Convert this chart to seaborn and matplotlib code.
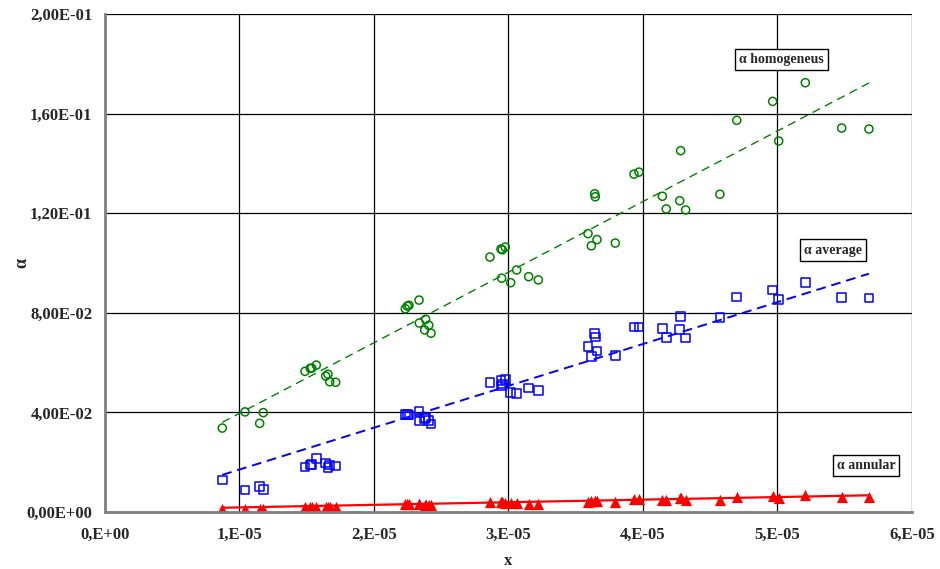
import numpy as np
import pandas as pd
import matplotlib
matplotlib.use("Agg")
import matplotlib.pyplot as plt
import seaborn as sns

# sample positions (x, in units of 1e-5)
x_e5 = [0.872, 1.041, 1.177, 1.150, 1.487, 1.526, 1.537, 1.571, 1.641, 1.658,
        1.671, 1.715, 2.233, 2.248, 2.260, 2.335, 2.337, 2.384, 2.407, 2.377,
        2.424, 2.862, 2.944, 2.954, 2.976, 2.949, 3.016, 3.061, 3.150, 3.222,
        3.591, 3.616, 3.658, 3.794, 3.641, 3.645, 3.933, 3.970, 4.144, 4.280,
        4.273, 4.173, 4.317, 4.572, 4.697, 4.964, 5.207, 5.009, 5.477, 5.680]

alpha_homogeneus = [0.0337, 0.0402, 0.0399, 0.0356, 0.0565, 0.0577, 0.0578, 0.0590, 0.0546, 0.0553,
                    0.0523, 0.0521, 0.0816, 0.0827, 0.0830, 0.0851, 0.0759, 0.0774, 0.0750, 0.0731,
                    0.0718, 0.1024, 0.1056, 0.1053, 0.1064, 0.0939, 0.0921, 0.0972, 0.0945, 0.0932,
                    0.1118, 0.1069, 0.1094, 0.1080, 0.1278, 0.1266, 0.1357, 0.1365, 0.1268, 0.1451,
                    0.1250, 0.1217, 0.1213, 0.1276, 0.1573, 0.1649, 0.1724, 0.1490, 0.1542, 0.1538]

alpha_average = [0.0129, 0.0088, 0.0090, 0.0102, 0.0180, 0.0188, 0.0190, 0.0214, 0.0197, 0.0178,
                 0.0188, 0.0185, 0.0392, 0.0392, 0.0390, 0.0404, 0.0365, 0.0379, 0.0368, 0.0375,
                 0.0353, 0.0521, 0.0527, 0.0514, 0.0531, 0.0506, 0.0479, 0.0475, 0.0498, 0.0487,
                 0.0664, 0.0625, 0.0647, 0.0629, 0.0716, 0.0702, 0.0743, 0.0743, 0.0736, 0.0786,
                 0.0734, 0.0700, 0.0699, 0.0780, 0.0863, 0.0892, 0.0921, 0.0854, 0.0861, 0.0859]

alpha_annular = [0.0011, 0.0013, 0.0012, 0.0012, 0.0019, 0.0021, 0.0021, 0.0021, 0.0020, 0.0020,
                 0.0020, 0.0019, 0.0031, 0.0031, 0.0031, 0.0031, 0.0031, 0.0028, 0.0028, 0.0028,
                 0.0027, 0.0039, 0.0039, 0.0039, 0.0036, 0.0039, 0.0035, 0.0036, 0.0033, 0.0033,
                 0.0041, 0.0043, 0.0045, 0.0040, 0.0045, 0.0045, 0.0053, 0.0053, 0.0048, 0.0055,
                 0.0055, 0.0047, 0.0048, 0.0048, 0.0061, 0.0065, 0.0069, 0.0057, 0.0060, 0.0059]

# trend lines as drawn in the original (values at first / last sample)
trend_x_e5 = [0.872, 5.680]
trend_homogeneus = [0.0360, 0.1723]
trend_average = [0.0149, 0.0957]
trend_annular = [0.0017, 0.0067]

x_ticks = [0, 1e-5, 2e-5, 3e-5, 4e-5, 5e-5, 6e-5]
x_ticklabels = ["0,E+00", "1,E-05", "2,E-05", "3,E-05", "4,E-05", "5,E-05", "6,E-05"]
y_ticks = [0, 0.04, 0.08, 0.12, 0.16, 0.20]
y_ticklabels = ["0,00E+00", "4,00E-02", "8,00E-02", "1,20E-01", "1,60E-01", "2,00E-01"]

df = pd.DataFrame({
    "x": np.array(x_e5) * 1e-5,
    "homogeneus": alpha_homogeneus,
    "average": alpha_average,
    "annular": alpha_annular,
})
trend = pd.DataFrame({
    "x": np.array(trend_x_e5) * 1e-5,
    "homogeneus": trend_homogeneus,
    "average": trend_average,
    "annular": trend_annular,
})

sns.set_style("white")
plt.rcParams["font.family"] = ["Liberation Serif", "DejaVu Serif"]
plt.rcParams["font.weight"] = "bold"

fig = plt.figure(figsize=(9.4, 5.69), dpi=100)
ax = fig.add_axes([0.1117, 0.1002, 0.8585, 0.8752])

# trend lines
sns.lineplot(data=trend, x="x", y="homogeneus", ax=ax, color="#008000",
             lw=1.0, linestyle=(0, (6, 4)), zorder=2)
sns.lineplot(data=trend, x="x", y="average", ax=ax, color="#0000FF",
             lw=1.4, linestyle=(0, (5, 3)), zorder=2)
sns.lineplot(data=trend, x="x", y="annular", ax=ax, color="#FF0000",
             lw=1.6, zorder=2)

# points
sns.scatterplot(data=df, x="x", y="homogeneus", ax=ax, marker="o", s=34,
                facecolors="none", edgecolor="#008000", linewidth=1.1, zorder=3)
sns.scatterplot(data=df, x="x", y="average", ax=ax, marker="s", s=38,
                facecolors="none", edgecolor="#0000FF", linewidth=1.1, zorder=3)
sns.scatterplot(data=df, x="x", y="annular", ax=ax, marker="^", s=65,
                color="#FF0000", linewidth=0, zorder=3)

ax.set_xlim(0, 6e-5)
ax.set_ylim(0, 0.2)
ax.set_xticks(x_ticks)
ax.set_xticklabels(x_ticklabels)
ax.set_yticks(y_ticks)
ax.set_yticklabels(y_ticklabels)
ax.grid(True, color="black", lw=0.9)
ax.set_axisbelow(True)

for side in ["top", "right"]:
    ax.spines[side].set_visible(False)
for side in ["left", "bottom"]:
    ax.spines[side].set_color("#808080")
    ax.spines[side].set_linewidth(2)
    ax.spines[side].set_zorder(4)

ax.tick_params(axis="both", which="major", direction="out", length=5,
               width=1, color="#808080", labelsize=12, pad=4)
ax.tick_params(axis="x", pad=6)
for lab in ax.get_xticklabels() + ax.get_yticklabels():
    lab.set_fontweight("bold")

ax.set_xlabel("x", fontsize=12, fontweight="bold")
ax.set_ylabel("α", fontsize=13, fontweight="bold")
ax.xaxis.label.set_va("center")
ax.xaxis.set_label_coords(0.5, -0.098)
ax.yaxis.set_label_coords(-0.093, 0.5)

box = dict(boxstyle="square,pad=0.3", facecolor="white", edgecolor="black", lw=1)
ax.text(0.838, 0.908, "α homogeneus", transform=ax.transAxes, ha="center",
        va="center", fontsize=10, fontweight="bold", bbox=box, zorder=5)
ax.text(0.902, 0.526, "α average", transform=ax.transAxes, ha="center",
        va="center", fontsize=10, fontweight="bold", bbox=box, zorder=5)
ax.text(0.943, 0.094, "α annular", transform=ax.transAxes, ha="center",
        va="center", fontsize=10, fontweight="bold", bbox=box, zorder=5)

fig.savefig("out.png", dpi=100)
